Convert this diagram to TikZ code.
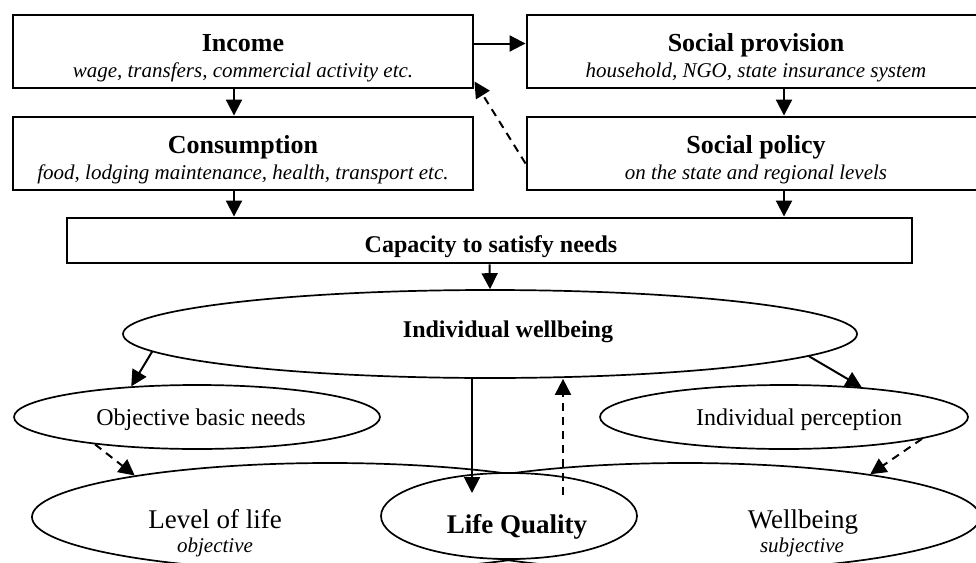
\documentclass[tikz,border=0pt]{standalone}
\usepackage{fontspec}
\setmainfont{Liberation Serif}
\usetikzlibrary{arrows.meta,shapes.geometric}
\tikzset{
  boxnode/.style={draw, line width=2.9pt, rectangle, inner sep=0pt},
  ell/.style={draw, line width=1.7pt, ellipse, inner sep=0pt},
  ttl/.style={font=\fontsize{26}{30}\selectfont\bfseries, anchor=base, inner sep=0pt},
  sub/.style={font=\fontsize{21}{24}\selectfont\itshape, anchor=base, inner sep=0pt},
  etxt/.style={font=\fontsize{24}{28}\selectfont, anchor=base, inner sep=0pt},
  big/.style={font=\fontsize{27}{30}\selectfont, anchor=base, inner sep=0pt},
  arr/.style={line width=2pt, -{Triangle[length=16pt,width=16pt]}},
  darr/.style={arr, dash pattern=on 8pt off 6pt},
}
\begin{document}
\begin{tikzpicture}[x=1pt,y=-1pt]
\path[use as bounding box] (0,0) rectangle (976,562);
\clip (0,0) rectangle (976,562);
\fill[white] (0,0) rectangle (976,562);
% boxes
\node[boxnode, minimum width=460pt, minimum height=73pt] (income) at (243,51.5) {};
\node[boxnode, minimum width=460pt, minimum height=73pt] (consumption) at (243,153.5) {};
\node[boxnode, minimum width=458pt, minimum height=73pt] (provision) at (756,51.5) {};
\node[boxnode, minimum width=458pt, minimum height=73pt] (policy) at (756,153.5) {};
\node[boxnode, minimum width=845pt, minimum height=45pt] (capacity) at (489.5,240.5) {};
% box texts
\node[ttl] (incomeT) at (243,51) {Income};
\node[sub] (incomeS) at (243,77) {wage, transfers, commercial activity etc.};
\node[ttl] (consT) at (243,153) {Consumption};
\node[sub] (consS) at (243,179) {food, lodging maintenance, health, transport etc.};
\node[ttl] (provT) at (756,51) {Social provision};
\node[sub] (provS) at (756,77) {household, NGO, state insurance system};
\node[ttl] (polT) at (756,153) {Social policy};
\node[sub] (polS) at (756,179) {on the state and regional levels};
\node[font=\fontsize{24}{28}\selectfont\bfseries, anchor=base, inner sep=0pt] (capT) at (491,252) {Capacity to satisfy needs};
% ellipses
\node[ell, minimum width=734pt, minimum height=88pt] (iw) at (490,334) {};
\node[ell, minimum width=366pt, minimum height=64pt] (obj) at (197,417) {};
\node[ell, minimum width=368pt, minimum height=64pt] (ip) at (784,417) {};
\node[ell, minimum width=596pt, minimum height=108pt] (lol) at (330,517) {};
\node[ell, minimum width=590pt, minimum height=108pt] (wb) at (685,517) {};
\node[ell, fill=white, minimum width=256pt, minimum height=86pt] (lq) at (509,516) {};
% ellipse texts
\node[font=\fontsize{24}{28}\selectfont\bfseries, anchor=base, inner sep=0pt] (iwT) at (508,337) {Individual wellbeing};
\node[etxt] (objT) at (201,425) {Objective basic needs};
\node[etxt] (ipT) at (799,425) {Individual perception};
\node[big] (lolT) at (215,528) {Level of life};
\node[sub] (lolS) at (215,552) {objective};
\node[big] (wbT) at (803,528) {Wellbeing};
\node[sub] (wbS) at (802,552) {subjective};
\node[big, font=\fontsize{27}{30}\selectfont\bfseries] (lqT) at (517,533) {Life Quality};
% connectors
\coordinate (lqin) at (472,493);
\coordinate (lqout) at (563,495);
\draw[arr] ([yshift=8pt]income.east) -- ([yshift=8pt]provision.west);
\draw[arr] ([xshift=-9pt]income.south) -- ([xshift=-9pt]consumption.north);
\draw[arr] ([xshift=28pt]provision.south) -- ([xshift=28pt]policy.north);
\draw[arr] ([xshift=-9pt]consumption.south) -- ([xshift=-9pt]consumption.south |- capacity.north);
\draw[arr] ([xshift=28pt]policy.south) -- ([xshift=28pt]policy.south |- capacity.north);
\draw[darr] ([yshift=-10pt]policy.west) -- ([yshift=8pt]income.south east);
\draw[arr] (capacity.south) -- (iw.north);
\draw[arr] (iw.183.3) -- (obj.155);
\draw[arr] (iw.-4) -- (ip.21);
\draw[arr] (iw.south -| lqin) -- (lqin);
\draw[darr] (lqout) -- (lqout |- iw.south);
\draw[darr] (obj.195.6) -- (lol.168.5);
\draw[darr] (ip.-9.2) -- (wb.13.9);
\end{tikzpicture}
\end{document}
